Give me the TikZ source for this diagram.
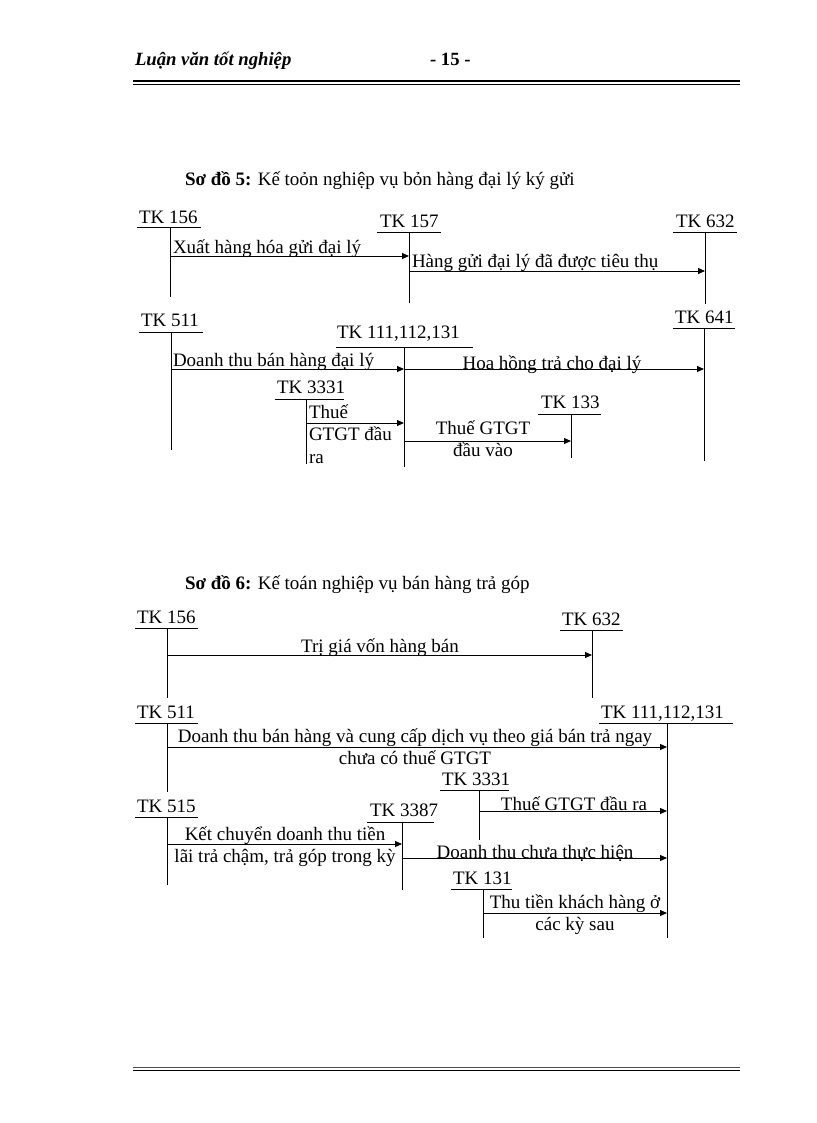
\documentclass[tikz,border=0pt]{standalone}
\usepackage{fontspec}
\setmainfont{Liberation Serif}
\usetikzlibrary{arrows.meta}
\tikzset{
  txt/.style={font=\fontsize{19}{22.5}\selectfont, inner sep=0pt, outer sep=0pt},
  acct/.style={txt, anchor=base west},
  ln/.style={line width=1pt, draw=black},
  arr/.style={ln, -{Triangle[length=7pt,width=6pt]}},
  lblw/.style={txt, anchor=base west},
  lblc/.style={txt, anchor=base},
  rulethick/.style={line width=2.2pt},
  rulethin/.style={line width=0.8pt},
}
% name, text, text x, baseline y, underline x1, underline x2, underline y, vertical x, vertical bottom y
\newcommand\Acct[9]{%
  \node[acct] (#1) at (#3,#4) {#2};
  \coordinate (#1ul) at (#5,#7);
  \coordinate (#1ur) at (#6,#7);
  \coordinate (#1t) at (#8,#7);
  \coordinate (#1b) at (#8,#9);
  \draw[ln] (#1ul) -- (#1ur);
  \draw[ln] (#1t) -- (#1b);
}
\begin{document}
\begin{tikzpicture}[x=1pt,y=-1pt]
\useasboundingbox (0,0) rectangle (816,1123);
% header
\node[txt, anchor=base west, font=\fontsize{18.7}{22}\selectfont\bfseries\itshape] (hdr) at (135,66) {Luận văn tốt nghiệp};
\node[txt, anchor=base west, font=\fontsize{18.7}{22}\selectfont\bfseries] (pg) at (430,66) {- 15 -};
\coordinate (hrl) at (133,81); \coordinate (hrr) at (740,81);
\coordinate (hrl2) at (133,84.5); \coordinate (hrr2) at (740,84.5);
\draw[rulethick] (hrl) -- (hrr);
\draw[rulethin] (hrl2) -- (hrr2);
% footer
\coordinate (frl) at (133,1067); \coordinate (frr) at (740,1067);
\coordinate (frl2) at (133,1070); \coordinate (frr2) at (740,1070);
\draw[line width=0.8pt, draw=black!70] (frl) -- (frr);
\draw[line width=1pt] (frl2) -- (frr2);

% ===== Diagram 5 =====
\node[lblw] (title5) at (185,186) {\textbf{Sơ đồ 5:} Kế toỏn nghiệp vụ bỏn hàng đại lý ký gửi};
\Acct{a156}{TK 156}{139}{223}{137}{201}{228}{170}{297}
\Acct{a157}{TK 157}{380}{228}{377}{441}{233}{409}{303}
\Acct{a632}{TK 632}{676}{228}{673}{737}{233}{705}{304}
\draw[arr] (a156t |- 0,256) -- (a157t |- 0,256);
\node[lblw] (l1) at (173,253) {Xuất hàng hóa gửi đại lý};
\draw[arr] (a157t |- 0,271) -- (a632t |- 0,271);
\node[lblw] (l2) at (412,267) {Hàng gửi đại lý đã được tiêu thụ};

\Acct{a511}{TK 511}{141}{326}{139}{203}{332}{171}{450}
\Acct{a111}{TK 111,112,131}{337}{338}{336}{473}{347}{404}{467}
\Acct{a641}{TK 641}{675}{323}{673}{735}{328}{704}{461}
\draw[arr] (a511t |- 0,369) -- (a111t |- 0,369);
\node[lblw] (l3) at (173,366) {Doanh thu bán hàng đại lý};
\draw[arr] (a111t |- 0,369) -- (a641t |- 0,369);
\node[lblc] (l4) at (552,369) {Hoa hồng trả cho đại lý};
\Acct{a3331}{TK 3331}{277}{393}{275}{344}{399}{306}{464}
\draw[arr] (a3331t |- 0,423) -- (a111t |- 0,423);
\node[txt, anchor=base west, align=left] (l5) at (309,463) {Thuế\\GTGT đầu\\ra};
\Acct{a133}{TK 133}{541}{408}{538}{601}{414}{571}{458}
\draw[arr] (a111t |- 0,441) -- (a133t |- 0,441);
\node[txt, anchor=base, align=center] (l6) at (483,456.5) {Thuế GTGT\\đầu vào};

% ===== Diagram 6 =====
\node[lblw] (title6) at (185,589) {\textbf{Sơ đồ 6:} Kế toán nghiệp vụ bán hàng trả góp};
\Acct{b156}{TK 156}{137}{623}{135}{198}{628}{167}{698}
\Acct{b632}{TK 632}{562}{625}{560}{623}{630}{592}{698}
\draw[arr] (b156t |- 0,655) -- (b632t |- 0,655);
\node[lblc] (m1) at (380,652) {Trị giá vốn hàng bán};

\Acct{b511}{TK 511}{137}{718}{135}{198}{723}{167}{792}
\Acct{b111}{TK 111,112,131}{601}{718}{599}{733}{723}{667}{938}
\draw[arr] (b511t |- 0,747) -- (b111t |- 0,747);
\node[txt, anchor=base, align=center] (m2) at (415,764.5) {Doanh thu bán hàng và cung cấp dịch vụ theo giá bán trả ngay\\chưa có thuế GTGT};

\Acct{b3331}{TK 3331}{442}{785}{440}{509}{790}{479}{840}
\draw[arr] (b3331t |- 0,811) -- (b111t |- 0,811);
\node[lblc] (m3) at (574,810) {Thuế GTGT đầu ra};

\Acct{b515}{TK 515}{137}{812}{135}{198}{817}{167}{885}
\Acct{b3387}{TK 3387}{370}{816}{367}{434}{822}{402}{890}
\draw[arr] (b515t |- 0,844) -- (b3387t |- 0,844);
\node[txt, anchor=base, align=center] (m4) at (285,862.5) {Kết chuyển doanh thu tiền\\lãi trả chậm, trả góp trong kỳ};
\draw[arr] (b3387t |- 0,858) -- (b111t |- 0,858);
\node[lblc] (m5) at (535,858) {Doanh thu chưa thực hiện};

\Acct{b131}{TK 131}{453}{884}{451}{512}{889}{483}{938}
\draw[arr] (b131t |- 0,913) -- (b111t |- 0,913);
\node[txt, anchor=base, align=center] (m6) at (575,930.5) {Thu tiền khách hàng ở\\các kỳ sau};
\end{tikzpicture}
\end{document}
